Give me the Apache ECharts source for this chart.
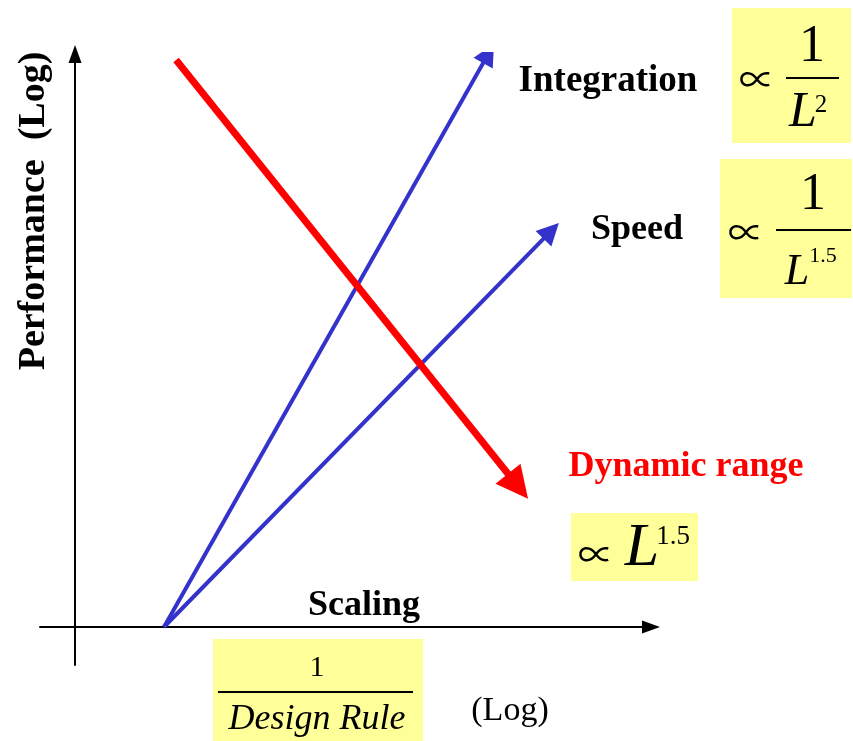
<!DOCTYPE html>
<html>
<head>
<meta charset="utf-8">
<script src="https://cdn.jsdelivr.net/npm/echarts@6/dist/echarts.min.js"></script>
<style>
  html, body { margin: 0; padding: 0; background: #fff; }
  #main { width: 853px; height: 741px; }
</style>
</head>
<body>
<div id="main"></div>
<script>
// log-log sketch, axes in "decades", origin where the two axes cross
const xRange = [-0.565, 9.29];
const yRange = [-0.613, 9.242];

// each trend is a straight line in log-log space: [start, end]
const integration = [[1.435, 0], [6.67, 9.25]];
const speed = [[1.435, 0], [7.68, 6.39]];
const dynamicRange = [[1.63, 9.145], [7.145, 2.27]];

const serif = '"Liberation Serif", "DejaVu Serif", serif';
const propFont = '"Noto Sans CJK JP", "DejaVu Serif", serif'; // thin ∝ sign
const blue = '#3333CC';
const red = '#FF0000';
const boxFill = '#FFFF99';

const chart = echarts.init(document.getElementById('main'));

function txt(text, x, y, size, opts) {
  opts = opts || {};
  return {
    type: 'text',
    x: x, y: y,
    rotation: opts.rotation || 0,
    z: 10,
    style: {
      text: text,
      fill: opts.color || '#000',
      fontFamily: opts.font || serif,
      fontSize: size,
      fontWeight: opts.bold ? 'bold' : 'normal',
      fontStyle: opts.italic ? 'italic' : 'normal',
      textAlign: 'center',
      textVerticalAlign: 'middle'
    }
  };
}
function box(x, y, w, h) {
  return { type: 'rect', z: 5, shape: { x: x, y: y, width: w, height: h }, style: { fill: boxFill } };
}
function bar(x1, x2, y) {
  return { type: 'line', z: 10, shape: { x1: x1, y1: y, x2: x2, y2: y }, style: { stroke: '#000', lineWidth: 2 } };
}

const option = {
  backgroundColor: '#fff',
  animation: false,
  grid: { left: 40, top: 54, width: 611, height: 611 },
  xAxis: {
    type: 'value', min: xRange[0], max: xRange[1],
    axisLine: { show: true, onZero: true, symbol: ['none', 'triangle'], symbolSize: [13, 18],
      lineStyle: { color: '#000', width: 2 } },
    axisTick: { show: false }, axisLabel: { show: false }, splitLine: { show: false }
  },
  yAxis: {
    type: 'value', min: yRange[0], max: yRange[1],
    axisLine: { show: true, onZero: true, symbol: ['none', 'triangle'], symbolSize: [13, 18],
      lineStyle: { color: '#000', width: 2 } },
    axisTick: { show: false }, axisLabel: { show: false }, splitLine: { show: false }
  },
  series: [
    {
      name: 'Integration', type: 'lines', coordinateSystem: 'cartesian2d',
      symbol: ['none', 'triangle'], symbolSize: [18, 22],
      lineStyle: { color: blue, width: 4, opacity: 1 },
      data: [{ coords: integration }]
    },
    {
      name: 'Speed', type: 'lines', coordinateSystem: 'cartesian2d',
      symbol: ['none', 'triangle'], symbolSize: [18, 22],
      lineStyle: { color: blue, width: 4, opacity: 1 },
      data: [{ coords: speed }]
    },
    {
      name: 'Dynamic range', type: 'lines', coordinateSystem: 'cartesian2d',
      symbol: ['none', 'triangle'], symbolSize: [26, 32],
      lineStyle: { color: red, width: 7, opacity: 1 },
      data: [{ coords: dynamicRange }]
    }
  ],
  graphic: [
    // axis titles
    txt('Performance  (Log)', 34, 211, 38, { bold: true, rotation: Math.PI / 2 }),
    txt('Scaling', 364, 606, 36, { bold: true }),
    txt('(Log)', 510, 711, 34),
    // 1 / Design Rule
    box(213, 639, 210, 102),
    txt('1', 317, 668, 30),
    bar(218, 413, 692),
    txt('Design Rule', 317, 720, 36, { italic: true }),
    // series labels
    txt('Integration', 608, 81, 37, { bold: true }),
    txt('Speed', 637, 230, 36, { bold: true }),
    txt('Dynamic range', 686, 467, 36, { bold: true, color: red }),
    // ∝ 1/L^2
    box(732, 8, 119, 135),
    txt('\u221D', 757, 79, 36, { font: propFont }),
    txt('1', 812, 47, 52),
    bar(786, 839, 78),
    txt('L', 803, 113, 50, { italic: true }),
    txt('2', 821, 105, 25),
    // ∝ 1/L^1.5
    box(720, 159, 132, 139),
    txt('\u221D', 746, 232, 36, { font: propFont }),
    txt('1', 813, 195, 52),
    bar(776, 851, 230),
    txt('L', 797, 272, 44, { italic: true }),
    txt('1.5', 823, 256, 22),
    // ∝ L^1.5
    box(571, 513, 127, 68),
    txt('\u221D', 596, 554, 36, { font: propFont }),
    txt('L', 642, 549, 62, { italic: true }),
    txt('1.5', 673, 537, 27)
  ]
};

chart.setOption(option);
</script>
</body>
</html>
